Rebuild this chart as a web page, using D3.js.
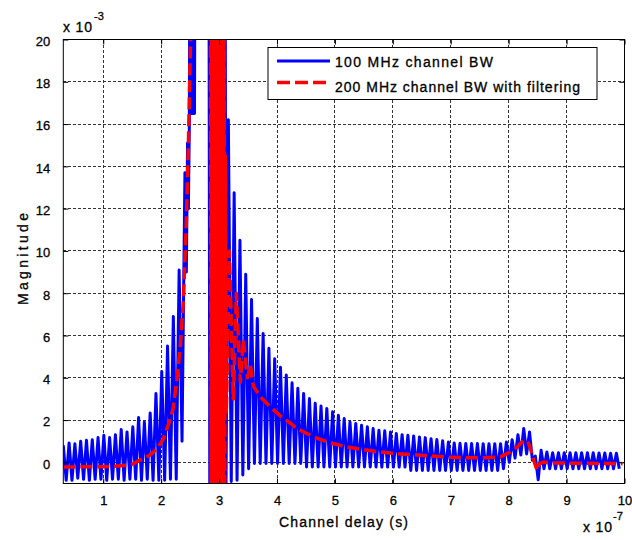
<!DOCTYPE html>
<html>
<head>
<meta charset="utf-8">
<script src="https://cdn.jsdelivr.net/npm/d3@7"></script>
<style>
  body { margin: 0; background: #fff; }
  svg { display: block; font-family: "Liberation Sans", Arial, sans-serif; }
  text { fill: #000; stroke: #000; stroke-width: 0.3px; }
</style>
</head>
<body>
<svg width="632" height="540"></svg>
<script>
// x in units of 1e-7 s, y in units of 1e-3
const xTicks = [1, 2, 3, 4, 5, 6, 7, 8, 9, 10];
const yTicks = [0, 2, 4, 6, 8, 10, 12, 14, 16, 18, 20];
const cyclePeriod = 0.1;

// 100 MHz: one peak per 0.1e-7 cycle, before the main spike
const blueStartA = 0.31;
const bluePeaksA = [0.80, 0.92, 0.88, 1.00, 1.04, 1.07, 1.17, 1.28, 1.17, 1.31, 1.55,
    1.44, 1.68, 2.12, 1.91, 2.34, 3.26, 4.3, 5.5, 6.9, 9.1, 13.7];
const blueTroughsA = [-0.85, -0.85, -0.75, -0.8, -0.85, -0.8, -0.8, -0.85, -0.8, -0.8, -0.85,
    -0.8, -0.8, -0.85, -0.8, -0.85, -0.85, -0.85, -0.8, -0.8, 1.0];

// main spike (clipped above 20)
const blueSpikeX = [2.435, 2.455, 2.47, 2.486, 2.50, 2.515, 2.53, 2.545, 2.56, 2.575, 2.59, 2.62, 2.80];
const blueSpikeY = [9.0, 15.1, 12.0, 15.9, 30, 16.5, 30, 16.5, 30, 16.5, 30, 30, 30];

// dense block near 3e-7
const blueBlockX = [2.825, 2.839, 2.853, 2.867, 2.881, 2.895, 2.909, 2.923, 2.937, 2.951, 2.965,
    2.979, 2.993, 3.007, 3.021, 3.035, 3.049, 3.063, 3.077, 3.091, 3.105, 3.119];
const blueBlockY = [25, -1.3, 25, -1.3, 25, -1.3, 25, -1.3, 25, -1.3, 25,
    -1.3, 25, -1.3, 25, -1.3, 25, -1.3, 25, -1.3, 25, -1.3];

// decaying tail
const blueStartB = 3.16;
const bluePeaksB = [16.2, 12.75, 10.5, 8.9, 7.7, 6.8, 6.1, 5.4, 4.9, 4.5, 4.13, 3.76, 3.5, 3.26,
    3.02, 2.79, 2.66, 2.55, 2.39, 2.23, 2.07, 1.91, 1.84, 1.76, 1.68, 1.6, 1.52, 1.49, 1.44,
    1.36, 1.31, 1.28, 1.25, 1.2, 1.17, 1.12, 1.08, 1.02, 0.96, 0.92, 0.9, 0.89, 0.89, 0.89,
    0.88, 0.88, 0.88, 0.88, 0.96, 1.07, 1.31, 1.6, 1.44, 0.3, 0.57, 0.49, 0.45, 0.45, 0.45,
    0.45, 0.45, 0.45, 0.45, 0.45, 0.44, 0.44, 0.43, 0.43];
const blueTroughsB = [-0.9, -0.85, -0.6, -0.3,
    -0.05, -0.05, -0.05, -0.05, -0.05, -0.05, -0.05, -0.05, -0.05,
    -0.22, -0.22, -0.22, -0.22, -0.22, -0.22, -0.22, -0.22, -0.22,
    -0.22, -0.22, -0.22, -0.22, -0.22, -0.22, -0.22, -0.22, -0.22,
    -0.38, -0.38, -0.38, -0.38, -0.38, -0.38, -0.38, -0.38, -0.38,
    -0.38, -0.38, -0.38, -0.38, -0.38, -0.38, -0.38, -0.3,
    0.0, 0.2, 0.35, 0.4, 0.1, -0.82,
    -0.3, -0.3, -0.3, -0.3, -0.3, -0.3, -0.3, -0.3, -0.3, -0.3, -0.3, -0.3, -0.3, -0.3];

// 200 MHz with filtering
const redStartX = [0.31, 1.12, 1.47, 1.55, 1.64, 1.81, 1.93, 2.04, 2.13, 2.20, 2.24, 2.27,
    2.33, 2.38, 2.43, 2.47, 2.50, 2.54, 2.61, 2.80];
const redStartY = [-0.22, -0.2, -0.12, -0.02, 0.12, 0.35, 0.65, 1.12, 1.84, 2.47, 3.26, 3.9,
    5.5, 7.5, 11, 15, 19, 24, 30, 30];
const redBlockX = [2.85, 2.863, 2.876, 2.889, 2.902, 2.915, 2.928, 2.941, 2.954, 2.967, 2.98,
    2.993, 3.006, 3.019, 3.032, 3.045, 3.058, 3.071, 3.084, 3.097, 3.11];
const redBlockY = [25, -1.3, 25, -1.3, 25, -1.3, 25, -1.3, 25, -1.3, 25,
    -1.3, 25, -1.3, 25, -1.3, 25, -1.3, 25, -1.3, 14.5];
const redEndX = [3.125, 3.177, 3.246, 3.298, 3.367, 3.419, 3.488, 3.54, 3.592, 3.713, 3.885,
    4.058, 4.231, 4.346, 4.633, 4.921, 5.21, 5.497, 5.785, 6.073, 6.36, 6.649, 6.937, 7.224,
    7.512, 7.857, 7.909, 8.03, 8.146, 8.26, 8.329, 8.376, 8.432, 8.491, 8.536, 8.605, 8.721, 9.965];
const redEndY = [2.3, 10, 3, 8, 3.8, 5.8, 4.0, 4.6, 3.6, 3.1, 2.62,
    2.2, 1.85, 1.6, 1.2, 0.92, 0.73, 0.6, 0.49, 0.41, 0.36, 0.3, 0.25, 0.22,
    0.22, 0.25, 0.33, 0.49, 0.73, 1.04, 1.0, 0.65, 0.1, -0.38, -0.06, 0.02, -0.03, -0.06];

const seriesNames = ["100 MHz channel BW", "200 MHz channel BW with filtering"];

function cyclePoints(start, peaks, troughs) {
    const pts = [];
    peaks.forEach((p, k) => {
        pts.push([start + k * cyclePeriod, p]);
        if (k < troughs.length) pts.push([start + (k + 0.5) * cyclePeriod, troughs[k]]);
    });
    return pts;
}

function zipPoints(xs, ys) {
    return xs.map((x, i) => [x, ys[i]]);
}

function drawChart() {
    const svg = d3.select("svg");
    const area = { left: 63.3, right: 624.5, top: 39.5, bottom: 483.5 };

    const scX = d3.scaleLinear().domain([0.31, 10]).range([area.left, area.right]);
    const scY = d3.scaleLinear().domain([-1, 20]).range([area.bottom, area.top]);

    svg.append("defs").append("clipPath").attr("id", "plotClip")
        .append("rect")
        .attr("x", area.left).attr("y", area.top)
        .attr("width", area.right - area.left).attr("height", area.bottom - area.top);

    // grid
    const grid = svg.append("g")
        .attr("stroke", "#333")
        .attr("stroke-width", 1)
        .attr("stroke-dasharray", "3,2")
        .attr("shape-rendering", "crispEdges");
    grid.selectAll(".gx").data(xTicks.slice(0, -1)).enter().append("line")
        .attr("x1", d => scX(d)).attr("x2", d => scX(d))
        .attr("y1", area.top).attr("y2", area.bottom);
    grid.selectAll(".gy").data(yTicks.slice(0, -1)).enter().append("line")
        .attr("y1", d => scY(d)).attr("y2", d => scY(d))
        .attr("x1", area.left).attr("x2", area.right);

    const blue = [].concat(
        cyclePoints(blueStartA, bluePeaksA, blueTroughsA),
        zipPoints(blueSpikeX, blueSpikeY),
        zipPoints(blueBlockX, blueBlockY),
        cyclePoints(blueStartB, bluePeaksB, blueTroughsB)
    );
    const red = [].concat(
        zipPoints(redStartX, redStartY),
        zipPoints(redBlockX, redBlockY),
        zipPoints(redEndX, redEndY)
    );

    const line = d3.line().x(d => scX(d[0])).y(d => scY(d[1]));
    const plot = svg.append("g").attr("clip-path", "url(#plotClip)");

    plot.append("path")
        .attr("d", line(blue))
        .attr("fill", "none")
        .attr("stroke", "#0000ff")
        .attr("stroke-width", 3)
        .attr("stroke-linejoin", "round");

    plot.append("path")
        .attr("d", line(red))
        .attr("fill", "none")
        .attr("stroke", "#ff0000")
        .attr("stroke-width", 3.5)
        .attr("stroke-dasharray", "12,5")
        .attr("stroke-linejoin", "round");

    // axes box and ticks
    svg.append("rect")
        .attr("x", area.left).attr("y", area.top)
        .attr("width", area.right - area.left).attr("height", area.bottom - area.top)
        .attr("fill", "none").attr("stroke", "#000").attr("stroke-width", 1);

    const axisX = d3.axisBottom(scX).tickValues(xTicks).tickSize(-5).tickPadding(12);
    const gx = svg.append("g")
        .attr("transform", `translate(0, ${area.bottom})`)
        .call(axisX);
    svg.append("g")
        .attr("transform", `translate(0, ${area.top})`)
        .call(d3.axisTop(scX).tickValues(xTicks).tickSize(-5).tickFormat(""));

    const axisY = d3.axisLeft(scY).tickValues(yTicks).tickSize(-5).tickPadding(13);
    const gy = svg.append("g")
        .attr("transform", `translate(${area.left}, 0)`)
        .call(axisY);
    svg.append("g")
        .attr("transform", `translate(${area.right}, 0)`)
        .call(d3.axisRight(scY).tickValues(yTicks).tickSize(-5).tickFormat(""));

    svg.selectAll(".domain").remove();
    svg.selectAll(".tick line").attr("stroke", "#000");
    gx.selectAll("text")
        .attr("font-size", 13)
        .attr("font-family", "Liberation Sans, Arial, sans-serif");
    gy.selectAll("text")
        .attr("font-size", 13)
        .attr("dy", "0.45em")
        .attr("font-family", "Liberation Sans, Arial, sans-serif");

    // exponent labels
    svg.append("text").attr("x", 63).attr("y", 32.3)
        .attr("font-size", 14).attr("textLength", 29).text("x 10");
    svg.append("text").attr("x", 94).attr("y", 20)
        .attr("font-size", 11).text("-3");
    svg.append("text").attr("x", 583).attr("y", 531.7)
        .attr("font-size", 14).attr("textLength", 29).text("x 10");
    svg.append("text").attr("x", 613).attr("y", 520)
        .attr("font-size", 11).text("-7");

    // axis titles
    svg.append("text")
        .attr("x", 279).attr("y", 527.3)
        .attr("font-size", 14).attr("textLength", 129)
        .text("Channel delay (s)");
    svg.append("text")
        .attr("transform", "translate(28, 305) rotate(-90)")
        .attr("font-size", 14).attr("textLength", 92)
        .text("Magnitude");

    // legend
    const lg = svg.append("g");
    lg.append("rect")
        .attr("x", 268).attr("y", 47.5).attr("width", 329).attr("height", 52)
        .attr("fill", "#fff").attr("stroke", "#000").attr("stroke-width", 1);
    lg.append("line")
        .attr("x1", 277).attr("x2", 330).attr("y1", 61).attr("y2", 61)
        .attr("stroke", "#0000ff").attr("stroke-width", 3);
    lg.append("line")
        .attr("x1", 277).attr("x2", 330).attr("y1", 82.5).attr("y2", 82.5)
        .attr("stroke", "#ff0000").attr("stroke-width", 3.5)
        .attr("stroke-dasharray", "13,5");
    lg.append("text").attr("x", 335).attr("y", 66.5)
        .attr("font-size", 14).attr("textLength", 158).text(seriesNames[0]);
    lg.append("text").attr("x", 335).attr("y", 92.3)
        .attr("font-size", 14).attr("textLength", 245).text(seriesNames[1]);
}

drawChart();
</script>
</body>
</html>
